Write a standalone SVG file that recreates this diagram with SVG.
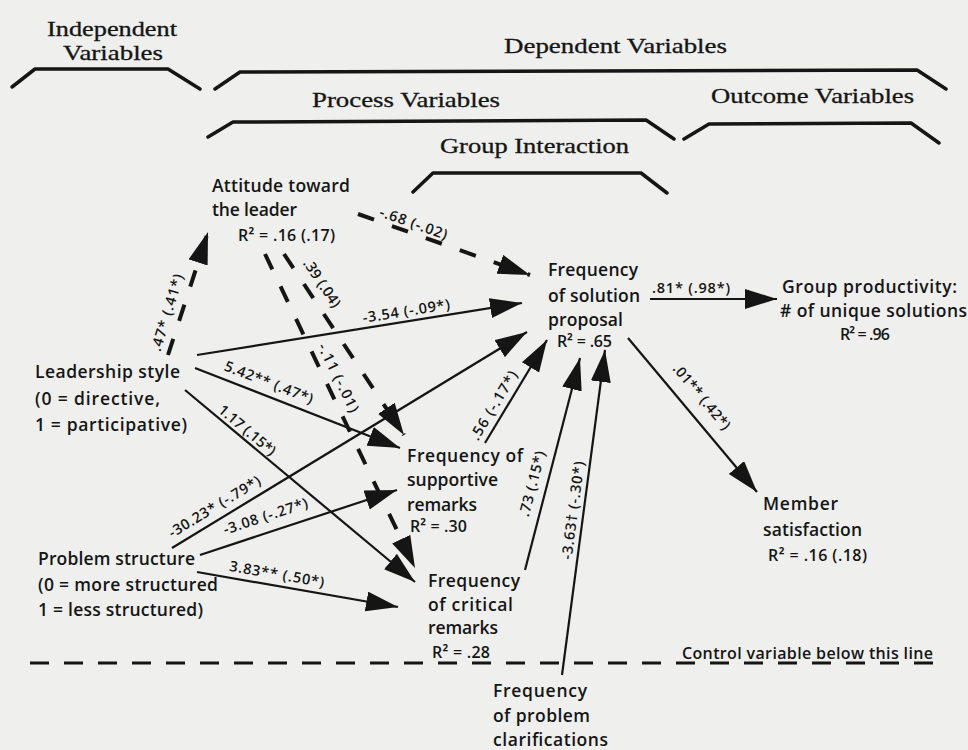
<svg xmlns="http://www.w3.org/2000/svg" width="968" height="750" viewBox="0 0 968 750">
<defs>
<style>
.bg{fill:#efefed}
.br{fill:none;stroke:#151515;stroke-width:3.5;stroke-linejoin:round;stroke-linecap:round}
.h{font-family:"Liberation Serif","Times New Roman",serif;font-size:21px;fill:#151515;stroke:#151515;stroke-width:0.3}
.n{font-family:"Open Sans","Liberation Sans",sans-serif;font-weight:600;font-size:17.5px;fill:#151515}
.r{font-family:"Open Sans","Liberation Sans",sans-serif;font-weight:600;font-size:16px;fill:#151515}
.e{font-family:"Open Sans","Liberation Sans",sans-serif;font-weight:600;font-size:14.5px;fill:#151515;text-anchor:middle}
.s{fill:none;stroke:#151515;stroke-width:2.2}
.d{fill:none;stroke:#151515;stroke-width:4;stroke-dasharray:17 19}
.c{fill:none;stroke:#151515;stroke-width:3;stroke-dasharray:19 15}
</style>
<marker id="ah" markerUnits="userSpaceOnUse" viewBox="0 0 34 22" markerWidth="34" markerHeight="22" refX="32" refY="10" orient="auto">
<path d="M0,0 L32,10 L0,20 z" fill="#151515"/>
</marker>
</defs>
<rect class="bg" x="0" y="0" width="968" height="750"/>

<g id="headers">
<text class="h" x="47" y="36" textLength="130" lengthAdjust="spacingAndGlyphs">Independent</text>
<text class="h" x="63" y="60" textLength="100" lengthAdjust="spacingAndGlyphs">Variables</text>
<text class="h" x="504" y="53" textLength="223" lengthAdjust="spacingAndGlyphs">Dependent Variables</text>
<text class="h" x="312" y="107" textLength="188" lengthAdjust="spacingAndGlyphs">Process Variables</text>
<text class="h" x="711" y="103" textLength="203" lengthAdjust="spacingAndGlyphs">Outcome Variables</text>
<text class="h" x="440" y="153" textLength="189" lengthAdjust="spacingAndGlyphs">Group Interaction</text>
<polyline class="br" points="12,87 35,69 168,69 200,89"/>
<polyline class="br" points="215,89 240,72 917,70 946,89"/>
<polyline class="br" points="208,137 233,122 646,120 674,139"/>
<polyline class="br" points="684,139 709,124 911,123 939,143"/>
<polyline class="br" points="413,192 433,173 641,173 667,193"/>
</g>

<g id="connectors">
<line class="d" x1="168" y1="355" x2="208" y2="232" marker-end="url(#ah)"/>
<line class="d" x1="358" y1="214" x2="530" y2="275" marker-end="url(#ah)"/>
<line class="d" x1="284" y1="254" x2="404" y2="435" marker-end="url(#ah)"/>
<line class="d" x1="265" y1="254" x2="415" y2="568" marker-end="url(#ah)"/>
<line class="s" x1="197" y1="355" x2="522" y2="303" marker-end="url(#ah)"/>
<line class="s" x1="195" y1="368" x2="400" y2="448" marker-end="url(#ah)"/>
<line class="s" x1="185" y1="390" x2="415" y2="582" marker-end="url(#ah)"/>
<line class="s" x1="172" y1="548" x2="527" y2="332" marker-end="url(#ah)"/>
<line class="s" x1="200" y1="555" x2="397" y2="490" marker-end="url(#ah)"/>
<line class="s" x1="197" y1="572" x2="398" y2="607" marker-end="url(#ah)"/>
<line class="s" x1="485" y1="443" x2="547" y2="340" marker-end="url(#ah)"/>
<line class="s" x1="525" y1="570" x2="580" y2="358" marker-end="url(#ah)"/>
<line class="s" x1="562" y1="675" x2="605" y2="350" marker-end="url(#ah)"/>
<line class="s" x1="650" y1="299" x2="777" y2="299" marker-end="url(#ah)"/>
<line class="s" x1="628" y1="338" x2="757" y2="492" marker-end="url(#ah)"/>
<line class="c" x1="30" y1="663" x2="935" y2="663"/>

<text class="e" transform="translate(172,314) rotate(-73)" textLength="80">.47* (.41*)</text>
<text class="e" transform="translate(412,228) rotate(19.5)" textLength="71">-.68 (-.02)</text>
<text class="e" transform="translate(318,286) rotate(56)" textLength="55">.39 (.04)</text>
<text class="e" transform="translate(334,380) rotate(64)" textLength="75">-.11 (-.01)</text>
<text class="e" transform="translate(407,316) rotate(-9.1)" textLength="88">-3.54 (-.09*)</text>
<text class="e" transform="translate(267,387) rotate(21.3)" textLength="94">5.42** (.47*)</text>
<text class="e" transform="translate(244,434) rotate(40)" textLength="70">1.17 (.15*)</text>
<text class="e" transform="translate(217,511) rotate(-31.3)" textLength="105">-30.23* (-.79*)</text>
<text class="e" transform="translate(267,521) rotate(-18.3)" textLength="88">-3.08 (-.27*)</text>
<text class="e" transform="translate(276,579) rotate(9.9)" textLength="96">3.83** (.50*)</text>
<text class="e" transform="translate(498,408) rotate(-59)" textLength="78">.56 (-.17*)</text>
<text class="e" transform="translate(537,485) rotate(-75.5)" textLength="67">.73 (.15*)</text>
<text class="e" transform="translate(578,511) rotate(-82.5)" textLength="99">-3.63† (-.30*)</text>
<text class="e" x="691" y="293" textLength="78">.81* (.98*)</text>
<text class="e" transform="translate(698,400) rotate(50)" textLength="81">.01** (.42*)</text>
</g>

<g id="node-attitude">
<text class="n" x="212" y="192" textLength="138">Attitude toward</text>
<text class="n" x="212" y="216" textLength="85">the leader</text>
<text class="r" x="238" y="241" textLength="97">R² = .16 (.17)</text>
</g>
<g id="node-leadership">
<text class="n" x="35" y="378" textLength="145">Leadership style</text>
<text class="n" x="35" y="405" textLength="125">(0 = directive,</text>
<text class="n" x="35" y="431" textLength="152">1 = participative)</text>
</g>
<g id="node-problem">
<text class="n" x="38" y="565" textLength="157">Problem structure</text>
<text class="n" x="38" y="591" textLength="180">(0 = more structured</text>
<text class="n" x="38" y="616" textLength="165">1 = less structured)</text>
</g>
<g id="node-solution">
<text class="n" x="548" y="276" textLength="90">Frequency</text>
<text class="n" x="548" y="302" textLength="92">of solution</text>
<text class="n" x="548" y="326" textLength="75">proposal</text>
<text class="r" x="557" y="347" textLength="55">R² = .65</text>
</g>
<g id="node-productivity">
<text class="n" x="782" y="293" textLength="175">Group productivity:</text>
<text class="n" x="780" y="317" textLength="187">&#35; of unique solutions</text>
<text class="r" x="840" y="340" textLength="50">R² = .96</text>
</g>
<g id="node-supportive">
<text class="n" x="407" y="462" textLength="116">Frequency of</text>
<text class="n" x="407" y="486" textLength="91">supportive</text>
<text class="n" x="407" y="511" textLength="70">remarks</text>
<text class="r" x="410" y="532" textLength="57">R² = .30</text>
</g>
<g id="node-critical">
<text class="n" x="428" y="587" textLength="92">Frequency</text>
<text class="n" x="428" y="611" textLength="85">of critical</text>
<text class="n" x="428" y="634" textLength="70">remarks</text>
<text class="r" x="432" y="658" textLength="58">R² = .28</text>
</g>
<g id="node-clarifications">
<text class="n" x="493" y="697" textLength="94">Frequency</text>
<text class="n" x="493" y="722" textLength="97">of problem</text>
<text class="n" x="493" y="746" textLength="115">clarifications</text>
</g>
<g id="node-satisfaction">
<text class="n" x="763" y="510" textLength="75">Member</text>
<text class="n" x="763" y="536" textLength="99">satisfaction</text>
<text class="r" x="768" y="561" textLength="99">R² = .16 (.18)</text>
</g>
<g id="control-note">
<text class="r" x="682" y="659" textLength="251">Control variable below this line</text>
</g>
</svg>
